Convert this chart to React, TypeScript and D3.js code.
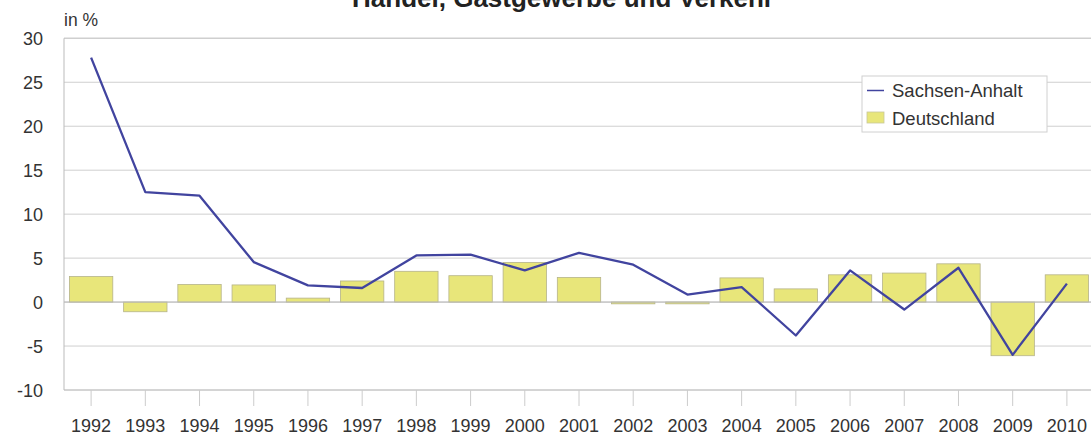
import React from "react";
import * as d3 from "d3";

const years = ["1992","1993","1994","1995","1996","1997","1998","1999","2000","2001","2002","2003","2004","2005","2006","2007","2008","2009","2010"];
const sachsenAnhalt = [27.8, 12.5, 12.1, 4.55, 1.9, 1.6, 5.3, 5.4, 3.6, 5.6, 4.25, 0.85, 1.7, -3.8, 3.6, -0.85, 3.9, -6.0, 2.1];
const deutschland = [2.9, -1.1, 2.0, 1.95, 0.45, 2.4, 3.5, 3.0, 4.5, 2.8, -0.2, -0.2, 2.75, 1.5, 3.1, 3.3, 4.35, -6.1, 3.1];
const yTicks = [30, 25, 20, 15, 10, 5, 0, -5, -10];
const title = "Handel, Gastgewerbe und Verkehr";
const legendLabels = ["Sachsen-Anhalt", "Deutschland"];

const W = 1091, H = 435;
const left = 64, right = 1094, top = 38.3, bottom = 390;
const FONT = "'Liberation Sans', Arial, sans-serif";

export default function App() {
  const x = d3.scaleBand<string>().domain(years).range([left, right]).paddingInner(0.2).paddingOuter(0.1);
  const y = d3.scaleLinear().domain([-10, 30]).range([bottom, top]);
  const cx = (yr: string) => (x(yr) as number) + x.bandwidth() / 2;
  const line = d3.line<number>().x((_, i) => cx(years[i])).y((d) => y(d));

  return (
    <svg width={W} height={H} style={{ position: "absolute", left: 0, top: 0, background: "#fff" }} fontFamily={FONT}>
      <text x={563} y={6.5} textAnchor="middle" fontSize={26} fontWeight="bold" fill="#222">{title}</text>
      <text x={64} y={26} fontSize={17.5} fill="#333">in %</text>
      {yTicks.map((t) => (
        <g key={t}>
          <line x1={left} x2={W} y1={y(t)} y2={y(t)} stroke={t === -10 ? "#aaa" : "#cfcfcf"} strokeWidth={t === 30 ? 1.5 : 1} />
          <text x={43} y={y(t) + 6.5} textAnchor="end" fontSize={18} fill="#333">{t}</text>
        </g>
      ))}
      <line x1={left} x2={left} y1={top} y2={bottom} stroke="#bbb" />
      {years.map((yr) => (
        <g key={yr}>
          <line x1={cx(yr)} x2={cx(yr)} y1={bottom} y2={bottom + 16} stroke="#ccc" />
          <text x={cx(yr)} y={432} textAnchor="middle" fontSize={18} fill="#333">{yr}</text>
        </g>
      ))}
      {deutschland.map((v, i) => (
        <rect key={years[i]} x={x(years[i])} y={y(Math.max(0, v))} width={x.bandwidth()} height={Math.abs(y(v) - y(0))}
          fill="#e8e67a" stroke="#b5b38a" strokeWidth={0.8} />
      ))}
      <line x1={left} x2={W} y1={y(0)} y2={y(0)} stroke="#bbb" />
      <path d={line(sachsenAnhalt) || ""} fill="none" stroke="#41449f" strokeWidth={2.3} strokeLinejoin="round" />
      <g>
        <rect x={862} y={76} width={185} height={56} fill="#fff" stroke="#d0d0d0" />
        <line x1={867} x2={884} y1={90.5} y2={90.5} stroke="#41449f" strokeWidth={1.5} />
        <text x={892} y={97} fontSize={18.5} fill="#333">{legendLabels[0]}</text>
        <rect x={867} y={112} width={17} height={11} fill="#e8e67a" stroke="#c9c79a" strokeWidth={0.8} />
        <text x={892} y={125} fontSize={18.5} fill="#333">{legendLabels[1]}</text>
      </g>
    </svg>
  );
}
